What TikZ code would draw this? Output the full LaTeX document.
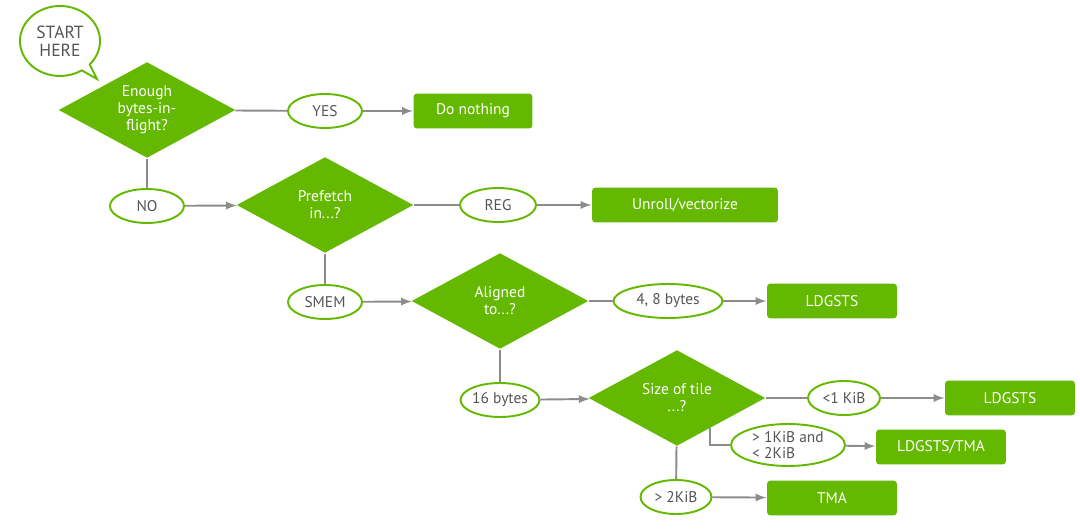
\documentclass[tikz,border=0pt]{standalone}
\usepackage{fontspec}
\setmainfont{PT Sans}
\usepackage{xcolor}
\usepackage{tikz}
\usetikzlibrary{arrows,shapes.geometric,shapes.callouts,calc}

\definecolor{nvgreen}{HTML}{64B900}
\definecolor{linegray}{HTML}{8C8C8C}
\definecolor{textgray}{HTML}{555555}

\begin{document}
\begin{tikzpicture}[x=0.02cm, y=-0.02cm, font=\fontsize{8.8}{9.6}\selectfont, thick]
    \tikzstyle{question}=[diamond, aspect=1.9, fill=nvgreen, text=white, inner sep=0pt, align=center, minimum width=3.54cm, minimum height=1.92cm]
    \tikzstyle{answer}=[ellipse, draw=nvgreen, line width=1.1pt, fill=white, text=textgray, inner sep=0pt, align=center, minimum width=1.48cm, minimum height=0.68cm]
    \tikzstyle{action}=[rectangle, rounded corners=2pt, fill=nvgreen, text=white, minimum width=2.6cm, minimum height=0.7cm]
    \tikzstyle{flow}=[draw=linegray, line width=1.1pt]
    \tikzstyle{go}=[flow, -latex]

    \useasboundingbox (0,0) rectangle (1080,530);

    \node[ellipse callout, draw=nvgreen, line width=1.1pt, fill=white, text=textgray, align=center,
          minimum width=1.6cm, minimum height=1.4cm, inner sep=0pt,
          callout absolute pointer={(97,79)}, font=\fontsize{10}{10}\selectfont] (start) at (60,41) {START\\HERE};

    \node[question] (bytes) at (147,110) {Enough\\bytes-in-\\flight?};
    \node[answer] (yes) at (325,111) {YES};
    \node[action, minimum width=2.38cm] (nothing) at (473,111) {Do nothing};
    \node[answer] (no) at (147,206) {NO};

    \node[question] (prefetch) at (325,205) {Prefetch\\in...?};
    \node[answer, minimum width=1.52cm] (reg) at (498,205) {REG};
    \node[action, minimum width=3.72cm] (unroll) at (685,205) {Unroll/vectorize};
    \node[answer] (smem) at (325,302) {SMEM};

    \node[question] (aligned) at (500,301) {Aligned\\to...?};
    \node[answer, minimum width=2.18cm] (small) at (668,301) {4, 8 bytes};
    \node[action] (ldgstsA) at (832,301) {LDGSTS};
    \node[answer, minimum width=1.5cm] (big) at (500,400) {16 bytes};

    \node[question] (tile) at (677,398) {Size of tile\\...?};
    \node[answer, minimum width=1.44cm] (lt1) at (844,398) {\textless1 KiB};
    \node[action] (ldgstsB) at (1010,398) {LDGSTS};
    \node[answer, minimum width=2.28cm, minimum height=0.84cm, align=left] (mid) at (788,445) {\textgreater{} 1KiB and\\\textless{} 2KiB};
    \node[action] (both) at (941,447) {LDGSTS/TMA};
    \node[answer, minimum width=1.42cm] (gt2) at (676,497) {\textgreater{} 2KiB};
    \node[action] (tma) at (832,498) {TMA};

    % decisions
    \path[flow] (bytes) -- (yes);
    \path[go] (yes) -- (nothing);
    \path[flow] (bytes) -- (no);
    \path[go] (no) -- (prefetch);

    \path[flow] (prefetch) -- (reg);
    \path[go] (reg) -- (unroll);
    \path[flow] (prefetch) -- (smem);
    \path[go] (smem) -- (aligned);

    \path[flow] (aligned) -- (small);
    \path[go] (small) -- (ldgstsA);
    \path[flow] (aligned) -- (big);
    \path[go] (big) -- (tile);

    \path[flow] (tile) -- (lt1);
    \path[go] (lt1) -- (ldgstsB);
    \path[flow] ($(tile.east)!0.625!(tile.south)$) |- (mid);
    \path[go] (mid) -- (both);
    \path[flow] (tile) -- (gt2);
    \path[go] (gt2) -- (tma);

\end{tikzpicture}
\end{document}
